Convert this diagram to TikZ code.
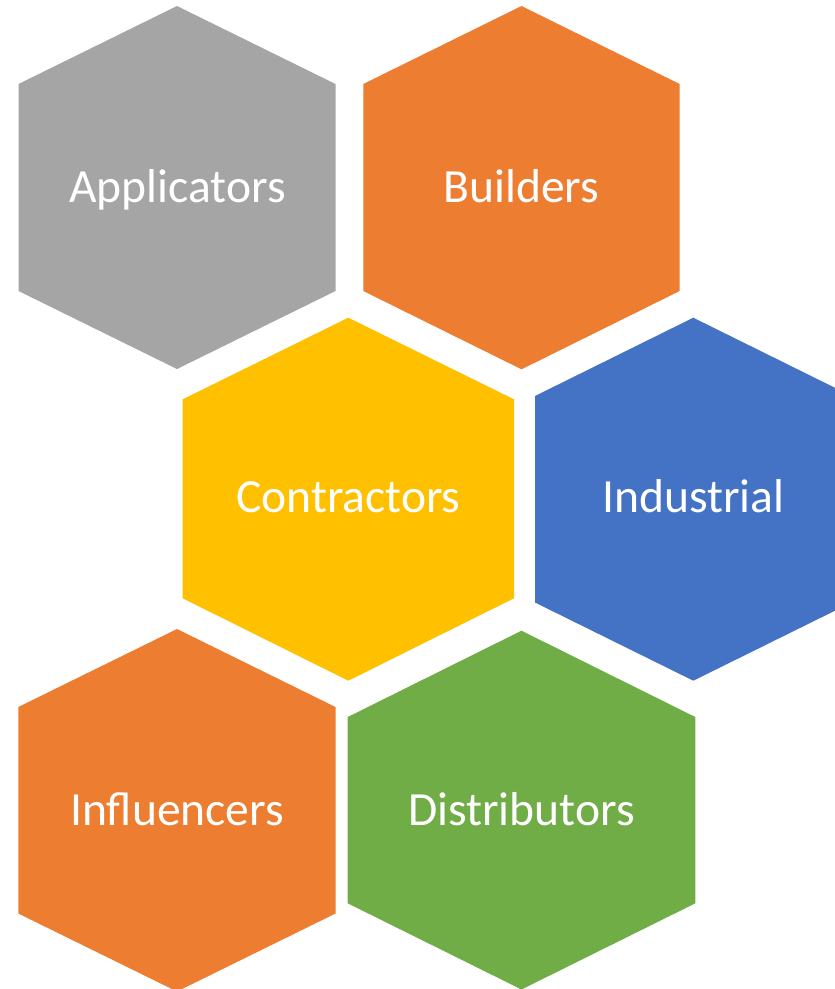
\documentclass[tikz,border=0pt]{standalone}
\usepackage{fontspec}
\setmainfont{Carlito}
\definecolor{hgray}{HTML}{A5A5A5}
\definecolor{horange}{HTML}{ED7D31}
\definecolor{hyellow}{HTML}{FFC000}
\definecolor{hblue}{HTML}{4472C4}
\definecolor{hgreen}{HTML}{70AD47}
% #1 cx, #2 left, #3 right, #4 top, #5 upper shoulder, #6 lower shoulder, #7 bottom, #8 colour
\newcommand{\hexpiece}[8]{%
  \fill[#8] (#1,#4) -- (#3,#5) -- (#3,#6) -- (#1,#7) -- (#2,#6) -- (#2,#5) -- cycle;}
\begin{document}
\begin{tikzpicture}[x=1pt,y=-1pt,
  lbl/.style={text=white,inner sep=0pt,anchor=base,font=\fontsize{47.6}{57}\selectfont}]
\useasboundingbox (0,0) rectangle (835,989);
\clip (0,0) rectangle (835,989);
\hexpiece{177}{18.5}{335.5}{6}{84}{291}{369}{hgray}
\hexpiece{521.5}{363.3}{679.7}{6}{84}{291}{369.3}{horange}
\hexpiece{348.3}{182.7}{514}{317.7}{399.3}{598.3}{680.7}{hyellow}
\hexpiece{693.3}{535}{851.6}{317.7}{396}{602.5}{680.7}{hblue}
\hexpiece{177}{18.3}{335.5}{629}{707}{913.5}{991.5}{horange}
\hexpiece{521.5}{347.7}{695.3}{630.7}{717}{903.3}{989.5}{hgreen}
\node[lbl] (applicators) at (177.5,202.7) {Applicators};
\node[lbl] (builders) at (521.5,202.7) {Builders};
\node[lbl] (contractors) at (348.3,512.7) {Contractors};
\node[lbl] (industrial) at (693.3,512.7) {Industrial};
\node[lbl] (influencers) at (177,825) {Influencers};
\node[lbl] (distributors) at (521.5,825) {Distributors};
\end{tikzpicture}
\end{document}
